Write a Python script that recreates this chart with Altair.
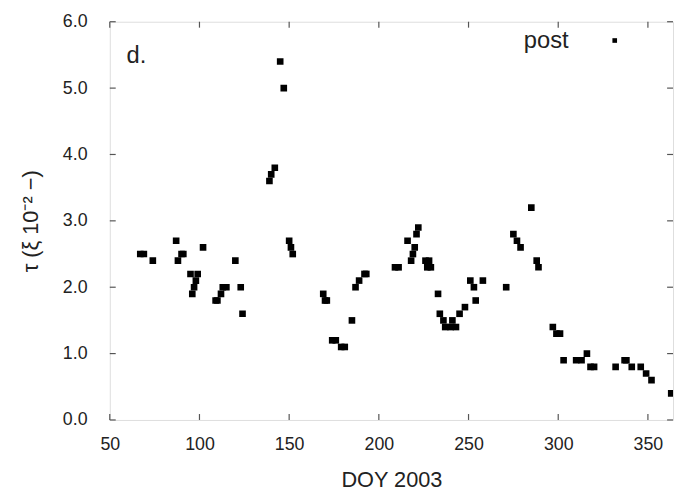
import altair as alt
import pandas as pd

# data
doy = [67, 69, 74, 87, 88, 90, 91, 95, 96, 97, 98, 99, 102, 109, 110, 112, 113, 115,
       120, 123, 124, 139, 140, 142, 145, 147, 150, 151, 152, 169, 170, 171, 174, 176,
       179, 181, 185, 187, 189, 192, 193, 209, 211, 216, 218, 219, 220, 221, 222, 226,
       228, 227, 229, 233, 234, 236, 237, 240, 241, 243, 245, 248, 251, 253, 254, 258,
       271, 275, 277, 279, 285, 288, 289, 297, 299, 301, 303, 310, 313, 316, 318, 320,
       332, 337, 338, 341, 346, 349, 352, 363]
tau = [2.5, 2.5, 2.4, 2.7, 2.4, 2.5, 2.5, 2.2, 1.9, 2.0, 2.1, 2.2, 2.6, 1.8, 1.8, 1.9, 2.0, 2.0,
       2.4, 2.0, 1.6, 3.6, 3.7, 3.8, 5.4, 5.0, 2.7, 2.6, 2.5, 1.9, 1.8, 1.8, 1.2, 1.2,
       1.1, 1.1, 1.5, 2.0, 2.1, 2.2, 2.2, 2.3, 2.3, 2.7, 2.4, 2.5, 2.6, 2.8, 2.9, 2.4,
       2.4, 2.3, 2.3, 1.9, 1.6, 1.5, 1.4, 1.4, 1.5, 1.4, 1.6, 1.7, 2.1, 2.0, 1.8, 2.1,
       2.0, 2.8, 2.7, 2.6, 3.2, 2.4, 2.3, 1.4, 1.3, 1.3, 0.9, 0.9, 0.9, 1.0, 0.8, 0.8,
       0.8, 0.9, 0.9, 0.8, 0.8, 0.7, 0.6, 0.4]
x_ticks = [50, 100, 150, 200, 250, 300, 350]
y_ticks = [0, 1, 2, 3, 4, 5, 6]
series_name = "post"
panel_label = "d."
x_title = "DOY 2003"
y_title = "τ (ξ 10⁻² −)"

W, H = 570, 403
FONT = "Liberation Sans"
TICK = 6
TICKCOL = "#555555"

df = pd.DataFrame({"doy": doy, "tau": tau})
xt = pd.DataFrame({"doy": x_ticks})
yt = pd.DataFrame({"tau": y_ticks})

xscale = alt.Scale(domain=[50, 364], nice=False, zero=False)
yscale = alt.Scale(domain=[0, 6], nice=False, zero=False)

xaxis = alt.Axis(values=x_ticks, title=x_title, ticks=False, tickSize=0, domain=False,
                 grid=False, labelFont=FONT, labelFontSize=18, labelColor="#222222",
                 labelPadding=16, titleFont=FONT, titleFontSize=22, titleFontWeight="normal",
                 titleColor="#222222", titlePadding=16, labelFlush=False)
yaxis = alt.Axis(values=y_ticks, format=".1f", title=y_title, ticks=False, tickSize=0,
                 domain=False, grid=False, labelFont=FONT, labelFontSize=18,
                 labelColor="#222222", labelPadding=23, titleFont=FONT, titleFontSize=22,
                 titleFontWeight="normal", titleColor="#222222", titlePadding=20,
                 labelFlush=False)

X = alt.X("doy:Q", scale=xscale, axis=xaxis)
Y = alt.Y("tau:Q", scale=yscale, axis=yaxis)

points = alt.Chart(df).mark_square(size=45, color="black", opacity=1, clip=True).encode(x=X, y=Y)

xt_bottom = alt.Chart(xt).mark_rule(color=TICKCOL, strokeWidth=1.2).encode(
    x=X, y=alt.value(H), y2=alt.value(H - TICK))
xt_top = alt.Chart(xt).mark_rule(color=TICKCOL, strokeWidth=1.2).encode(
    x=X, y=alt.value(0), y2=alt.value(TICK))
yt_left = alt.Chart(yt).mark_rule(color=TICKCOL, strokeWidth=1.2).encode(
    y=Y, x=alt.value(0), x2=alt.value(TICK))
yt_right = alt.Chart(yt).mark_rule(color=TICKCOL, strokeWidth=1.2).encode(
    y=Y, x=alt.value(W - TICK), x2=alt.value(W))

lab = pd.DataFrame({"t": [panel_label]})
panel = alt.Chart(lab).mark_text(font=FONT, fontSize=24, color="#222222", align="left",
                                 baseline="alphabetic").encode(
    text="t:N", x=alt.value(17), y=alt.value(42))

leg = pd.DataFrame({"t": [series_name]})
leg_text = alt.Chart(leg).mark_text(font=FONT, fontSize=24, color="#222222", align="left",
                                    baseline="alphabetic").encode(
    text="t:N", x=alt.value(419), y=alt.value(27))
leg_sym = alt.Chart(leg).mark_square(size=22, color="black", opacity=1).encode(
    x=alt.value(511), y=alt.value(19))

chart = alt.layer(points, xt_bottom, xt_top, yt_left, yt_right, panel, leg_text, leg_sym).properties(
    width=W, height=H,
    autosize=alt.AutoSizeParams(type="none"),
    padding={"left": 103, "top": 11, "right": 2, "bottom": 70},
).configure_view(stroke="#666666", strokeWidth=2).configure(background="white")

chart.save("out.html", embed_options={"renderer": "svg", "actions": False})
